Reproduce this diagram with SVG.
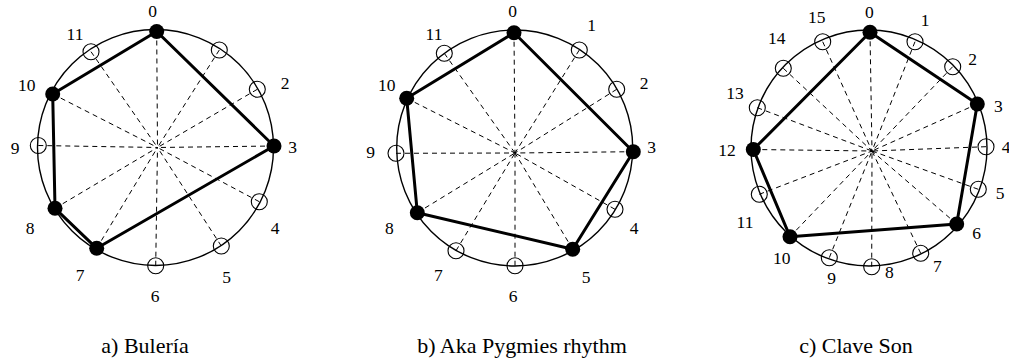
<svg xmlns="http://www.w3.org/2000/svg" width="1009" height="364" viewBox="0 0 1009 364">
<style>
.ring{fill:none;stroke:#000;stroke-width:1.4}
.dash{stroke:#000;stroke-width:1;stroke-dasharray:5 4;fill:none}
.edge{stroke:#000;stroke-width:3;fill:none;stroke-linejoin:round}
.on{fill:#000}
.off{fill:none;stroke:#000;stroke-width:1.1}
.lbl{font-size:17.5px;text-anchor:middle}
.cap{font-size:22px;text-anchor:middle}
</style>
<rect width="1009" height="364" fill="#fff"/>
<g font-family="Liberation Serif, Times New Roman, Tinos, DejaVu Serif, Noto Serif, FreeSerif, Times, serif" fill="#000">

<!-- ===== a) Buleria ===== -->
<circle class="ring" cx="155.5" cy="147.5" r="118"/>
<g id="a-connectors">
<g class="dash">
<line x1="156.7" y1="31.5" x2="157.5" y2="147.5"/>
<line x1="219.3" y1="50" x2="157.5" y2="147.5"/>
<line x1="257.3" y1="89.3" x2="157.5" y2="147.5"/>
<line x1="274" y1="146" x2="157.5" y2="147.5"/>
<line x1="259.3" y1="201.7" x2="157.5" y2="147.5"/>
<line x1="221.3" y1="246" x2="157.5" y2="147.5"/>
<line x1="155.7" y1="265.7" x2="157.5" y2="147.5"/>
<line x1="96.7" y1="248.3" x2="157.5" y2="147.5"/>
<line x1="55" y1="208.3" x2="157.5" y2="147.5"/>
<line x1="38.3" y1="145.5" x2="157.5" y2="147.5"/>
<line x1="52.7" y1="94" x2="157.5" y2="147.5"/>
<line x1="91" y1="51.7" x2="157.5" y2="147.5"/>
</g>
<polygon class="edge" points="156.7,31.5 274,146 96.7,248.3 55,208.3 52.7,94"/>
</g>
<g id="a-n0"><circle class="on" cx="156.7" cy="31.5" r="7.5"/><text class="lbl" x="152.5" y="16.5">0</text></g>
<g id="a-n1"><circle class="off" cx="219.3" cy="50" r="8"/></g>
<g id="a-n2"><circle class="off" cx="257.3" cy="89.3" r="8"/><text class="lbl" x="285" y="89.3">2</text></g>
<g id="a-n3"><circle class="on" cx="274" cy="146" r="7.5"/><text class="lbl" x="292.7" y="152.7">3</text></g>
<g id="a-n4"><circle class="off" cx="259.3" cy="201.7" r="8"/><text class="lbl" x="275" y="234.3">4</text></g>
<g id="a-n5"><circle class="off" cx="221.3" cy="246" r="8"/><text class="lbl" x="226.7" y="282.7">5</text></g>
<g id="a-n6"><circle class="off" cx="155.7" cy="265.7" r="8"/><text class="lbl" x="155" y="302">6</text></g>
<g id="a-n7"><circle class="on" cx="96.7" cy="248.3" r="7.5"/><text class="lbl" x="80" y="281">7</text></g>
<g id="a-n8"><circle class="on" cx="55" cy="208.3" r="7.5"/><text class="lbl" x="30" y="234.3">8</text></g>
<g id="a-n9"><circle class="off" cx="38.3" cy="145.5" r="8"/><text class="lbl" x="15" y="154">9</text></g>
<g id="a-n10"><circle class="on" cx="52.7" cy="94" r="7.5"/><text class="lbl" x="26.7" y="91">10</text></g>
<g id="a-n11"><circle class="off" cx="91" cy="51.7" r="8"/><text class="lbl" x="75" y="40">11</text></g>
<text id="a-caption" class="cap" x="145" y="353">a) Bulería</text>

<!-- ===== b) Aka Pygmies ===== -->
<circle class="ring" cx="514.7" cy="148" r="118"/>
<g id="b-connectors">
<g class="dash">
<line x1="514" y1="32.7" x2="515" y2="153"/>
<line x1="579.3" y1="50" x2="515" y2="153"/>
<line x1="616.7" y1="89.3" x2="515" y2="153"/>
<line x1="633.3" y1="151.7" x2="515" y2="153"/>
<line x1="615" y1="209.3" x2="515" y2="153"/>
<line x1="572.7" y1="249.3" x2="515" y2="153"/>
<line x1="515" y1="265.7" x2="515" y2="153"/>
<line x1="456" y1="250.7" x2="515" y2="153"/>
<line x1="417.3" y1="212.7" x2="515" y2="153"/>
<line x1="396" y1="153.3" x2="515" y2="153"/>
<line x1="406.7" y1="98.3" x2="515" y2="153"/>
<line x1="444.3" y1="53.3" x2="515" y2="153"/>
</g>
<polygon class="edge" points="514,32.7 633.3,151.7 572.7,249.3 417.3,212.7 406.7,98.3"/>
</g>
<g id="b-n0"><circle class="on" cx="514" cy="32.7" r="7.5"/><text class="lbl" x="512.7" y="16.7">0</text></g>
<g id="b-n1"><circle class="off" cx="579.3" cy="50" r="8"/><text class="lbl" x="591.7" y="31">1</text></g>
<g id="b-n2"><circle class="off" cx="616.7" cy="89.3" r="8"/><text class="lbl" x="644" y="89.3">2</text></g>
<g id="b-n3"><circle class="on" cx="633.3" cy="151.7" r="7.5"/><text class="lbl" x="651.7" y="152.7">3</text></g>
<g id="b-n4"><circle class="off" cx="615" cy="209.3" r="8"/><text class="lbl" x="634" y="234.3">4</text></g>
<g id="b-n5"><circle class="on" cx="572.7" cy="249.3" r="7.5"/><text class="lbl" x="586" y="282.7">5</text></g>
<g id="b-n6"><circle class="off" cx="515" cy="265.7" r="8"/><text class="lbl" x="513" y="302">6</text></g>
<g id="b-n7"><circle class="off" cx="456" cy="250.7" r="8"/><text class="lbl" x="438.3" y="281">7</text></g>
<g id="b-n8"><circle class="on" cx="417.3" cy="212.7" r="7.5"/><text class="lbl" x="389.3" y="234.3">8</text></g>
<g id="b-n9"><circle class="off" cx="396" cy="153.3" r="8"/><text class="lbl" x="370.7" y="157.7">9</text></g>
<g id="b-n10"><circle class="on" cx="406.7" cy="98.3" r="7.5"/><text class="lbl" x="386.7" y="91">10</text></g>
<g id="b-n11"><circle class="off" cx="444.3" cy="53.3" r="8"/><text class="lbl" x="434" y="40.3">11</text></g>
<text id="b-caption" class="cap" x="522" y="353">b) Aka Pygmies rhythm</text>

<!-- ===== c) Clave Son ===== -->
<circle class="ring" cx="869" cy="148" r="118"/>
<g id="c-connectors">
<g class="dash">
<line x1="870" y1="32.3" x2="872" y2="151"/>
<line x1="915" y1="41.7" x2="872" y2="151"/>
<line x1="952.7" y1="66.7" x2="872" y2="151"/>
<line x1="977.3" y1="104" x2="872" y2="151"/>
<line x1="986" y1="146.7" x2="872" y2="151"/>
<line x1="978.3" y1="189.3" x2="872" y2="151"/>
<line x1="956.7" y1="224" x2="872" y2="151"/>
<line x1="920.7" y1="253.3" x2="872" y2="151"/>
<line x1="871.7" y1="266.7" x2="872" y2="151"/>
<line x1="829.3" y1="257.7" x2="872" y2="151"/>
<line x1="790" y1="236.7" x2="872" y2="151"/>
<line x1="759.3" y1="194.3" x2="872" y2="151"/>
<line x1="753.3" y1="149.5" x2="872" y2="151"/>
<line x1="757.3" y1="107.7" x2="872" y2="151"/>
<line x1="783.3" y1="68.3" x2="872" y2="151"/>
<line x1="822.7" y1="41.7" x2="872" y2="151"/>
</g>
<polygon class="edge" points="870,32.3 977.3,104 956.7,224 790,236.7 753.3,149.5"/>
</g>
<g id="c-n0"><circle class="on" cx="870" cy="32.3" r="7.5"/><text class="lbl" x="869.3" y="17.7">0</text></g>
<g id="c-n1"><circle class="off" cx="915" cy="41.7" r="8"/><text class="lbl" x="925" y="26">1</text></g>
<g id="c-n2"><circle class="off" cx="952.7" cy="66.7" r="8"/><text class="lbl" x="972.7" y="65.3">2</text></g>
<g id="c-n3"><circle class="on" cx="977.3" cy="104" r="7.5"/><text class="lbl" x="998.3" y="112">3</text></g>
<g id="c-n4"><circle class="off" cx="986" cy="146.7" r="8"/><text class="lbl" x="1006" y="152.7">4</text></g>
<g id="c-n5"><circle class="off" cx="978.3" cy="189.3" r="8"/><text class="lbl" x="1000" y="198.7">5</text></g>
<g id="c-n6"><circle class="on" cx="956.7" cy="224" r="7.5"/><text class="lbl" x="976.7" y="238.7">6</text></g>
<g id="c-n7"><circle class="off" cx="920.7" cy="253.3" r="8"/><text class="lbl" x="937.3" y="272">7</text></g>
<g id="c-n8"><circle class="off" cx="871.7" cy="266.7" r="8"/><text class="lbl" x="889.3" y="277.7">8</text></g>
<g id="c-n9"><circle class="off" cx="829.3" cy="257.7" r="8"/><text class="lbl" x="831.7" y="284.3">9</text></g>
<g id="c-n10"><circle class="on" cx="790" cy="236.7" r="7.5"/><text class="lbl" x="781.7" y="264.3">10</text></g>
<g id="c-n11"><circle class="off" cx="759.3" cy="194.3" r="8"/><text class="lbl" x="745" y="227.7">11</text></g>
<g id="c-n12"><circle class="on" cx="753.3" cy="149.5" r="7.5"/><text class="lbl" x="727" y="156">12</text></g>
<g id="c-n13"><circle class="off" cx="757.3" cy="107.7" r="8"/><text class="lbl" x="735" y="99.3">13</text></g>
<g id="c-n14"><circle class="off" cx="783.3" cy="68.3" r="8"/><text class="lbl" x="776.7" y="44.3">14</text></g>
<g id="c-n15"><circle class="off" cx="822.7" cy="41.7" r="8"/><text class="lbl" x="816.7" y="23.3">15</text></g>
<text id="c-caption" class="cap" x="856" y="353">c) Clave Son</text>
</g>
</svg>
